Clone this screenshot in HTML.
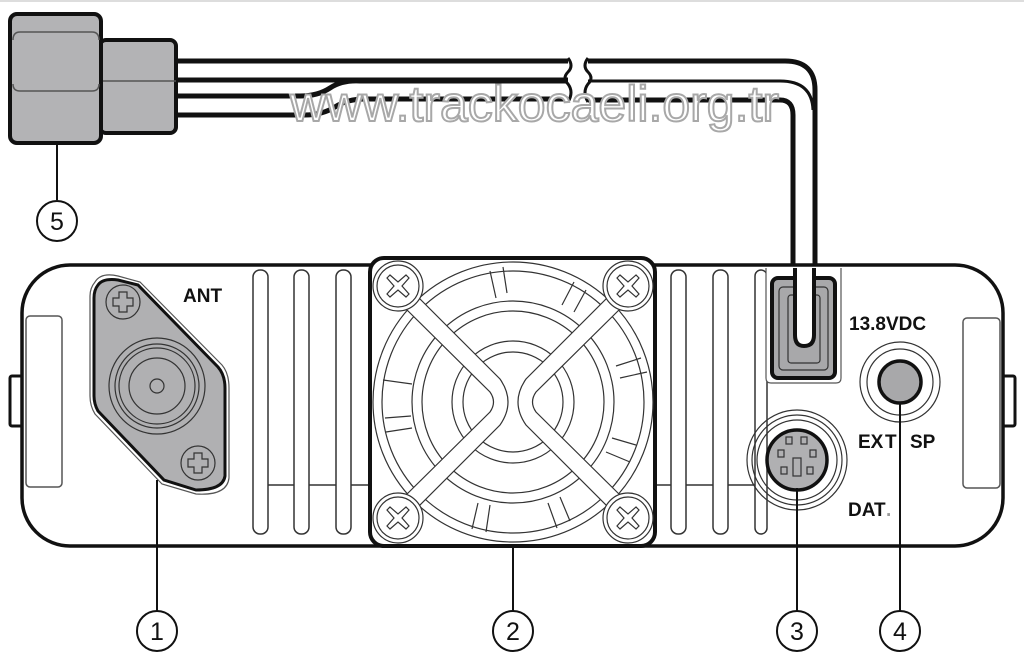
<!DOCTYPE html>
<html><head><meta charset="utf-8"><style>
html,body{margin:0;padding:0;background:#fff;}
svg{display:block;}
text{font-family:"Liberation Sans",Arial,sans-serif;}
</style></head><body>
<svg width="1024" height="671" viewBox="0 0 1024 671" xmlns="http://www.w3.org/2000/svg">
<rect width="1024" height="671" fill="#fff"/>
<line x1="0" y1="1" x2="1024" y2="1" stroke="#ddd" stroke-width="2"/>

<!-- cable wires -->
<g fill="none" stroke="#111" stroke-width="5">
  <path d="M176,61 H568"/>
  <path d="M588,61 H785 Q815,61 815,90 V280"/>
  <path d="M176,80 H568"/>
  <path d="M588,81 H780 Q812,81 813,110" stroke-width="3"/>
  <path d="M176,96 H300 Q318,96 330,88 Q342,80 360,81 H568" />
  <path d="M176,115 H305 Q322,115 335,107 Q347,99 365,99 H568"/>
  <path d="M588,100 H780 Q793,100 793,115 V280"/>
</g>
<g fill="none" stroke="#111" stroke-width="3">
  <path d="M568,58 Q574,66 568,72 Q562,78 568,84 Q574,92 568,102"/>
  <path d="M588,58 Q582,66 588,72 Q594,78 588,84 Q582,92 588,102"/>
</g>

<!-- connector 5 -->
<rect x="100" y="40" width="76" height="93" rx="6" fill="#b3b3b5" stroke="#111" stroke-width="4"/>
<line x1="100" y1="81" x2="176" y2="81" stroke="#555" stroke-width="1.5"/>
<rect x="10" y="14" width="91" height="129" rx="7" fill="#b3b3b5" stroke="#111" stroke-width="4"/>
<path d="M13,40 Q13,32 20,32 H92 Q99,32 99,40" fill="none" stroke="#555" stroke-width="1.5"/>
<path d="M13,84 Q13,91 20,91 H92 Q99,91 99,84" fill="none" stroke="#555" stroke-width="1.5"/>

<!-- watermark -->
<text x="290" y="121" font-size="50" fill="#fff" stroke="#a8a8a8" stroke-width="2">www.trackocaeli.org.tr</text>

<!-- body -->
<rect x="10" y="376" width="14" height="50" rx="2" fill="#fff" stroke="#111" stroke-width="3"/>
<rect x="1001" y="376" width="14" height="50" rx="2" fill="#fff" stroke="#111" stroke-width="3"/>
<rect x="22" y="265" width="981" height="281" rx="48" fill="#fff" stroke="#111" stroke-width="3.5"/>
<rect x="26" y="316" width="36" height="171" rx="4" fill="#fff" stroke="#555" stroke-width="1.5"/>
<rect x="963" y="318" width="37" height="170" rx="4" fill="#fff" stroke="#555" stroke-width="1.5"/>

<!-- fins -->
<g fill="none" stroke="#333" stroke-width="1.5">
  <rect x="253" y="270" width="15" height="264" rx="7"/>
  <rect x="294" y="270" width="15" height="264" rx="7"/>
  <rect x="336" y="270" width="15" height="264" rx="7"/>
  <path d="M268,485 H294 M309,485 H336 M351,485 H368"/>
  <rect x="671" y="270" width="15" height="264" rx="7"/>
  <rect x="713" y="270" width="15" height="264" rx="7"/>
  <rect x="755" y="270" width="12" height="264" rx="6"/>
  <path d="M656,485 H671 M686,485 H713 M728,485 H755"/>
</g>

<!-- ANT plate -->
<path d="M95,282 Q101,272 118,276 L140,282 L222,365 Q229,373 229,388 L229,478 Q227,496 196,494 L162,484 L95,414 Q90,406 90,396 L90,296 Q90,288 95,282 Z" fill="#fff" stroke="#555" stroke-width="1.2"/>
<path d="M98,285 Q103,278 118,280 L138,285 L218,367 Q225,375 225,388 L225,476 Q223,490 196,490 L164,480 L98,411 Q94,404 94,396 L94,298 Q94,290 98,285 Z" fill="#b0b0b2" stroke="#111" stroke-width="3"/>
<g fill="none" stroke="#333" stroke-width="1.2">
  <circle cx="123" cy="302" r="17"/>
  <path d="M119,292 h8 v6 h6 v8 h-6 v6 h-8 v-6 h-6 v-8 h6 z"/>
  <circle cx="198" cy="463" r="17"/>
  <path d="M194,453 h8 v6 h6 v8 h-6 v6 h-8 v-6 h-6 v-8 h6 z"/>
  <circle cx="157" cy="386" r="48"/>
  <circle cx="157" cy="386" r="42"/>
  <circle cx="157" cy="386" r="38"/>
  <circle cx="157" cy="386" r="28"/>
  <circle cx="157" cy="386" r="7"/>
</g>
<text x="183" y="302" font-size="19" font-weight="bold" fill="#111">ANT</text>

<!-- fan -->
<rect x="370" y="258" width="285" height="288" rx="14" fill="#fff" stroke="#111" stroke-width="4"/>
<g fill="none" stroke="#333" stroke-width="1.2">
  <circle cx="513" cy="402" r="140"/>
  <circle cx="513" cy="402" r="131"/>
  <circle cx="513" cy="402" r="101"/>
  <circle cx="513" cy="402" r="91"/>
  <circle cx="513" cy="402" r="61"/>
  <circle cx="513" cy="402" r="50"/>
  <path d="M490,271 L496,298 M503,267 L507,293 M574,282 L562,305 M586,290 L574,312 M641,358 L616,366 M647,372 L620,378 M636,445 L612,438 M630,462 L606,452 M570,521 L560,497 M557,528 L548,503 M486,532 L490,505 M472,529 L478,503 M386,432 L412,428 M385,418 L411,416 M383,380 L412,384"/>
</g>
<g fill="#fff" stroke="#333" stroke-width="1.2">
  <path d="M403,306 L490,392 Q497,402 490,412 L403,498 L414,511 L500,425 Q516,402 500,379 L414,293 Z"/>
  <path d="M623,306 L536,392 Q529,402 536,412 L623,498 L612,511 L526,425 Q510,402 526,379 L612,293 Z"/>
</g>
<g fill="#fff" stroke="#333" stroke-width="1.2">
  <circle cx="398" cy="286" r="25"/><circle cx="398" cy="286" r="21"/>
  <circle cx="628" cy="286" r="25"/><circle cx="628" cy="286" r="21"/>
  <circle cx="398" cy="518" r="25"/><circle cx="398" cy="518" r="21"/>
  <circle cx="628" cy="518" r="25"/><circle cx="628" cy="518" r="21"/>
</g>
<g fill="none" stroke="#333" stroke-width="1.2">
  <path d="M-8,-11 L0,-4 L8,-11 L11,-8 L4,0 L11,8 L8,11 L0,4 L-8,11 L-11,8 L-4,0 L-11,-8 Z" transform="translate(398,286)"/>
  <path d="M-8,-11 L0,-4 L8,-11 L11,-8 L4,0 L11,8 L8,11 L0,4 L-8,11 L-11,8 L-4,0 L-11,-8 Z" transform="translate(628,286)"/>
  <path d="M-8,-11 L0,-4 L8,-11 L11,-8 L4,0 L11,8 L8,11 L0,4 L-8,11 L-11,8 L-4,0 L-11,-8 Z" transform="translate(398,518)"/>
  <path d="M-8,-11 L0,-4 L8,-11 L11,-8 L4,0 L11,8 L8,11 L0,4 L-8,11 L-11,8 L-4,0 L-11,-8 Z" transform="translate(628,518)"/>
</g>

<!-- power socket -->
<path d="M766,268 V378 Q766,383 771,383 H836 Q841,383 841,378 V268" fill="#fff" stroke="#555" stroke-width="1.2"/>
<rect x="772" y="278" width="63" height="100" rx="6" fill="#a8a8aa" stroke="#111" stroke-width="4"/>
<rect x="779" y="287" width="49" height="83" rx="4" fill="none" stroke="#333" stroke-width="1.2"/>
<rect x="788" y="295" width="32" height="68" rx="3" fill="none" stroke="#333" stroke-width="1.2"/>
<path d="M795,268 V335 Q795,346 804,346 Q814,346 814,335 V268" fill="#fff" stroke="#111" stroke-width="4"/>
<text x="849" y="330" font-size="19" font-weight="bold" fill="#111">13.8VDC</text>

<!-- EXT SP -->
<g fill="none" stroke="#333" stroke-width="1.2">
  <circle cx="900" cy="382" r="40"/>
  <circle cx="900" cy="382" r="33"/>
</g>
<circle cx="900" cy="382" r="21" fill="#a8a8aa" stroke="#111" stroke-width="3.5"/>
<text x="858" y="448" font-size="19" font-weight="bold" fill="#111">EX</text>
<text x="885" y="448" font-size="19" font-weight="bold" fill="#111">T</text>
<text x="910" y="448" font-size="19" font-weight="bold" fill="#111">SP</text>

<!-- DATA -->
<g fill="none" stroke="#333" stroke-width="1.2">
  <circle cx="797" cy="460" r="50"/>
  <circle cx="797" cy="460" r="45"/>
  <circle cx="797" cy="460" r="40"/>
</g>
<circle cx="797" cy="460" r="30" fill="#b0b0b2" stroke="#111" stroke-width="3.5"/>
<g fill="none" stroke="#333" stroke-width="1.2">
  <rect x="786" y="437" width="6" height="7"/><rect x="801" y="437" width="6" height="7"/>
  <rect x="778" y="450" width="6" height="7"/><rect x="810" y="450" width="6" height="7"/>
  <rect x="781" y="467" width="6" height="7"/><rect x="807" y="467" width="6" height="7"/>
  <rect x="793" y="458" width="8" height="18"/>
</g>
<text x="848" y="516" font-size="19" font-weight="bold" fill="#111">DAT</text>
<text x="886" y="516" font-size="19" font-weight="bold" fill="#999">.</text>

<!-- callouts -->
<g stroke="#111" stroke-width="2" fill="#fff">
  <line x1="157" y1="480" x2="157" y2="611"/>
  <line x1="513" y1="546" x2="513" y2="611"/>
  <line x1="797" y1="488" x2="797" y2="611"/>
  <line x1="900" y1="403" x2="900" y2="611"/>
  <line x1="57" y1="143" x2="57" y2="200"/>
  <circle cx="157" cy="631" r="20"/>
  <circle cx="513" cy="631" r="20"/>
  <circle cx="797" cy="631" r="20"/>
  <circle cx="900" cy="631" r="20"/>
  <circle cx="57" cy="221" r="20"/>
</g>
<g font-size="25" fill="#111" text-anchor="middle">
  <text x="157" y="640">1</text>
  <text x="513" y="640">2</text>
  <text x="797" y="640">3</text>
  <text x="900" y="640">4</text>
  <text x="57" y="230">5</text>
</g>
</svg>
</body></html>
